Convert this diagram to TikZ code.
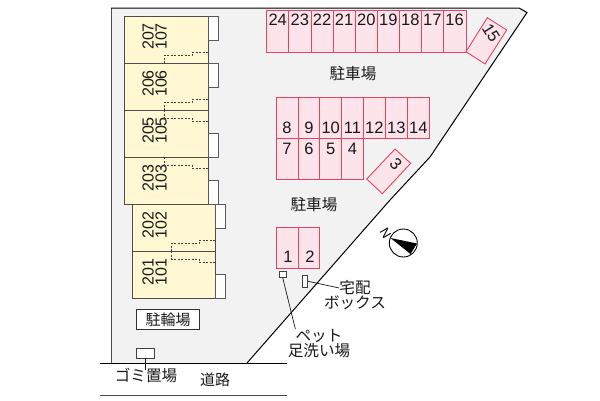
\documentclass[tikz,border=0pt]{standalone}
\usepackage{fontspec}
\setmainfont{Liberation Sans}
\newfontfamily\cjk{Noto Sans CJK JP}
\definecolor{lotline}{HTML}{E2455F}
\definecolor{lotfill}{HTML}{FDE3EA}
\definecolor{unitfill}{HTML}{FFF8D2}
\tikzset{
 lot/.style={draw=lotline,fill=lotfill,line width=0.9pt},
 dig/.style={inner sep=0pt,font=\fontsize{16.5}{16.5}\selectfont,text=black!90},
 unit/.style={draw=black!70,fill=unitfill,line width=0.9pt},
 balcony/.style={draw=black!65,fill=white,line width=0.9pt},
 pipe/.style={draw=black!75,dash pattern=on 2pt off 1.5pt,line width=0.8pt},
 room/.style={inner sep=0pt,rotate=90,font=\fontsize{16}{16}\selectfont,text=black!90},
 jp/.style={inner sep=0pt,font=\cjk\fontsize{15.6}{15.6}\selectfont,text=black!90},
 small/.style={draw=black!75,fill=white,inner sep=0pt,line width=0.7pt},
 leader/.style={draw=black!90,line width=0.7pt},
}
\begin{document}
\begin{tikzpicture}[x=1pt,y=-1pt]
\useasboundingbox (0,0) rectangle (600,400);
\fill[white] (0,0) rectangle (600,400);
% site
\fill[black!5] (111,8) -- (519,8) -- (527,12.5) -- (430,157) -- (390,200) -- (247,363) -- (111,363) -- cycle;
\draw[black!70,line width=1pt] (111,363) -- (111,8);
\draw[black,line width=1pt] (111,8) -- (519,8) -- (527,12.5) -- (430,157) -- (390,200) -- (247,363);
\draw[black,line width=1pt] (100,363) -- (287,363);
\draw[black!70,line width=1pt] (100,395) -- (287,395);
% buildings
\foreach \a/\b in {16/63,63/110,110/157,157/204} \draw[unit] (124.5,\a) rectangle (208,\b);
\foreach \a/\b in {204/251,251/298} \draw[unit] (132,\a) rectangle (215,\b);
\foreach \a in {16,63,133,180} \draw[balcony] (208,\a) rectangle ++(10.5,24);
\foreach \a in {204,274} \draw[balcony] (215,\a) rectangle ++(10.5,24);
\foreach \y/\u/\l in {36.5/207/107,83.5/206/106,130.5/205/105,178/203/103,225/202/102,272/201/101} {
 \node[room] at (148,\y) {\u}; \node[room] at (161,\y) {\l};}
% pipes
\draw[pipe] (164.5,63) -- (164.5,55) -- (192,55) -- (192,52) -- (208,52);
\draw[pipe] (164.5,110) -- (164.5,102) -- (192,102) -- (192,99) -- (208,99);
\draw[pipe] (164.5,110) -- (164.5,118) -- (192,118) -- (192,121) -- (208,121);
\draw[pipe] (164.5,157) -- (164.5,165) -- (192,165) -- (192,168) -- (208,168);
\draw[pipe] (171.5,251) -- (171.5,243) -- (199,243) -- (199,240) -- (215,240);
\draw[pipe] (171.5,251) -- (171.5,259) -- (199,259) -- (199,262) -- (215,262);
% top lots
\foreach \a/\b/\n in {266.7/288.7/24,288.7/311/23,311/333/22,333/355.3/21,355.3/377.3/20,377.3/399.3/19,399.3/421.3/18,421.3/443.3/17,443.3/466/16} {
 \draw[lot] (\a,10.5) rectangle (\b,52);
 \node[dig] at ({(\a+\b)/2},20) {\n};}
\foreach \a/\b/\n in {276/298/8,298/319.7/9,319.7/341.7/10,341.7/363.3/11,363.3/385.3/12,385.3/407.3/13,407.3/429.3/14} {
 \draw[lot] (\a,97) rectangle (\b,138);
 \node[dig] at ({(\a+\b)/2},128) {\n};}
\foreach \a/\b/\n in {276/298/7,298/319.7/6,319.7/341.7/5,341.7/363.3/4} {
 \draw[lot] (\a,138) rectangle (\b,179);
 \node[dig] at ({(\a+\b)/2},148.5) {\n};}
\foreach \a/\b/\n in {276/298/1,298/319.7/2} {
 \draw[lot] (\a,227.3) rectangle (\b,268.7);
 \node[dig] at ({(\a+\b)/2+1},256.7) {\n};}
\draw[lot] (487.3,17.7) -- (506.7,30) -- (485,64) -- (466,51.7) -- cycle;
\node[dig,rotate=-58] at (491,33) {15};
\draw[lot] (395,149) -- (410.7,163.3) -- (382.3,193.7) -- (366.7,179) -- cycle;
\node[dig,rotate=-47] at (396,164) {3};
% labels
\node[jp] at (353,74) {駐車場};
\node[jp] at (314,205) {駐車場};
\node[draw=black!80,fill=white,line width=0.8pt,minimum width=63.4pt,minimum height=20pt,inner sep=0pt,font=\cjk\fontsize{15}{15}\selectfont,text=black!90] (bike) at (168,319.3) {駐輪場};
\node[jp] (gomi) at (146,375) {ゴミ置場};
\node[jp,font=\cjk\fontsize{15}{15}\selectfont] (road) at (215,379.5) {道路};
\node[small,minimum width=18pt,minimum height=9.3pt] (gbox) at (145.3,353.3) {};
\draw[leader] (gbox.south) -- (145.3,370);
\node[small,minimum width=7.3pt,minimum height=6.3pt] (pbox) at (282.7,274.2) {};
\node[small,minimum width=5pt,minimum height=12pt] (dbox) at (305.2,281.3) {};
\node[jp] (tak) at (355,288) {宅配};
\node[jp] (box) at (355,303) {ボックス};
\node[jp] (pet) at (319,336) {ペット};
\node[jp] (wash) at (319,351) {足洗い場};
\draw[leader] (dbox.east) -- (tak.west);
\draw[leader] (pbox.south) -- (pet.north west);
% compass
\coordinate (cc) at (403.3,243);
\node[circle,draw=black,fill=white,line width=0.9pt,minimum size=28pt,inner sep=0pt] (comp) at (cc) {};
\fill[black] (390.5,238) -- (417,243.5) -- (410.5,254) -- cycle;
\node[inner sep=0pt,rotate=-60,font=\fontsize{13}{13}\selectfont,text=black] at (385.5,233) {N};
\end{tikzpicture}
\end{document}
